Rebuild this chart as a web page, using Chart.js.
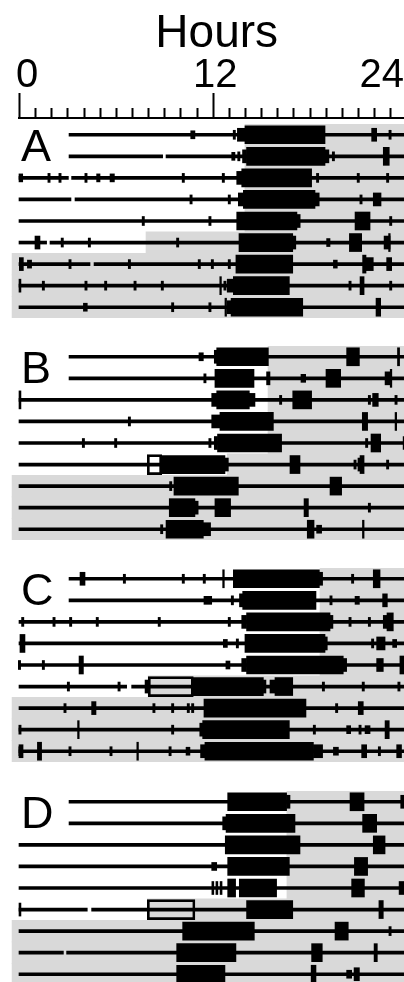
<!DOCTYPE html>
<html lang="en">
<head>
  <meta charset="UTF-8">
  <title>Actogram A-D</title>
  <script src="https://cdn.jsdelivr.net/npm/chart.js"></script>
  <style>
    html, body { margin: 0; padding: 0; background: #fff; overflow: hidden; }
    body { width: 404px; height: 982px; position: relative; }
    canvas { position: absolute; left: 0; }
  </style>
</head>
<body>
  <canvas id="panelA" width="404" height="318" style="top:0px"></canvas>
  <canvas id="panelB" width="404" height="194" style="top:346px"></canvas>
  <canvas id="panelC" width="404" height="194" style="top:568px"></canvas>
  <canvas id="panelD" width="404" height="194" style="top:791px"></canvas>
  <script>
    // rows (days) and hour axis
    const rowLabels = ['1', '2', '3', '4', '5', '6', '7', '8', '9'];
    const hourLabels = ['0', '12', '24'];
    const hourLabelValues = [0, 12, 24];

    // --- panel A --- [row, start h, end h]; gray = lights-off start per row
    const grayA = [14.0, 14.0, 14.0, 14.0, 14.0, 7.87, -0.43, -0.43, -0.43];
    const linesA = [[1,3.1,24],[2,3.1,8.9],[2,9.11,24],[3,0,3.06],[3,3.26,24],[4,0,3.22],[4,3.47,24],[5,0,24],[6,0,1.71],[6,1.92,24],[7,0,4.4],[7,4.65,24],[8,0,24],[9,0,24]];
    const ticksA = [[1,13.34],[1,22.99],[2,13.62],[2,19.48],[3,1.86],[3,2.54],[3,4.15],[3,10.18],[3,12.66],[3,18.5],[3,21.02],[3,22.84],[4,10.66],[4,13.03],[4,21.19],[5,7.7],[5,11.83],[5,23.03],[6,2.68],[6,4.36],[6,9.83],[7,3.16],[7,6.84],[7,11.17],[7,11.98],[7,13.03],[8,1.51],[8,4.15],[8,5.37],[8,7.19],[8,8.88],[8,12.76],[8,20.51],[8,23.03],[9,9.52],[9,11.83]];
    const smallA = [[1,10.64,10.9],[2,13.18,13.38],[3,0,0.23],[3,4.81,5.02],[3,5.64,5.91],[6,19.06,19.27],[7,0.52,0.78],[7,19.48,19.72],[9,3.99,4.23]];
    const midA = [[1,13.53,14.0],[1,21.85,22.16],[2,13.85,14.1],[2,18.96,19.2],[3,13.49,13.8],[4,13.59,13.9],[4,18.34,18.6],[4,21.95,22.43],[5,17.22,17.42],[6,0.99,1.3],[6,16.96,17.15],[6,22.62,22.99],[7,0.02,0.27],[7,21.5,21.95],[7,22.78,23.09],[8,0.0,0.12],[8,12.9,13.28],[9,12.9,13.14]];
    const largeA = [[1,14.0,18.96],[2,14.1,18.96],[2,22.57,22.94],[3,13.8,18.13],[4,13.9,18.34],[5,13.49,17.22],[5,20.82,21.75],[6,13.63,16.96],[6,20.47,21.23],[6,22.9,23.0],[7,13.44,16.96],[7,21.29,21.5],[8,12.44,12.54],[8,13.28,16.75],[8,21.13,21.38],[9,12.76,12.86],[9,13.14,17.58],[9,22.12,22.41]];
    const rectsA = [];

    // --- panel B ---
    const grayB = [15.43, 15.43, 15.43, 15.43, 15.43, 12.9, -0.43, -0.43, -0.43];
    const linesB = [[1,3.1,24],[2,3.1,24],[3,0,24],[4,0,24],[5,0,24],[6,0,24],[7,0,24],[8,0,24],[9,0,24]];
    const ticksB = [[2,11.52],[3,16.21],[3,21.71],[3,23.36],[4,6.84],[5,3.99],[5,5.99],[5,11.83],[5,21.54],[6,20.82],[6,22.84],[7,9.4],[8,21.71],[9,8.84]];
    const smallB = [[1,11.15,11.42],[2,17.47,17.76],[9,18.44,18.75]];
    const midB = [[1,12.1,12.25],[2,15.34,15.55],[2,22.68,22.99],[3,11.94,12.25],[3,14.27,14.62],[3,21.91,22.26],[4,11.94,12.45],[5,12.1,12.3],[5,23.8,24],[6,12.76,12.97],[6,21.0,21.13],[8,10.9,11.1],[9,11.42,11.87]];
    const largeB = [[1,12.25,15.45],[1,20.3,21.09],[1,23.45,23.58],[2,12.14,14.56],[2,19.02,19.93],[2,23.0,23.1],[3,0,0.12],[3,12.25,14.27],[3,16.96,18.13],[4,12.45,15.76],[4,21.27,21.6],[4,23.3,23.4],[5,12.3,16.27],[5,21.81,22.41],[6,8.84,12.76],[6,16.79,17.41],[6,21.13,21.38],[7,9.6,13.59],[7,19.27,19.99],[8,9.31,10.9],[8,12.14,13.11],[8,17.66,17.93],[9,9.11,11.42],[9,17.86,18.28],[9,21.28,21.38]];
    const rectsB = [[6,7.95,8.84]];

    // --- panel C ---
    const grayC = [18.65, 18.65, 18.65, 18.65, 18.65, 8.0, -0.43, -0.43, -0.43];
    const linesC = [[1,3.1,24],[2,3.1,24],[3,0,24],[4,0,24],[5,0,24],[6,0,6.67],[6,6.98,24],[7,0,24],[8,0,24],[9,0,24]];
    const ticksC = [[1,6.53],[1,10.18],[1,11.48],[1,20.67],[2,13.22],[2,19.33],[3,0.23],[3,2.17],[3,3.2],[3,4.85],[3,8.69],[3,13.03],[3,20.51],[3,21.71],[4,13.53],[4,21.91],[5,0.03],[5,1.51],[6,3.06],[6,6.2],[6,18.86],[6,21.33],[6,23.54],[7,2.85],[7,8.36],[7,9.52],[7,10.49],[7,10.76],[7,19.68],[8,0.06],[8,9.52],[8,18.3],[8,21.13],[9,0.06],[9,3.16],[9,5.7],[9,9.36],[9,22.33]];
    const smallC = [[2,11.46,11.94],[2,20.82,21.09],[4,12.66,12.91],[4,23.15,23.4],[5,12.82,13.07],[8,20.3,20.55],[8,21.44,21.75],[9,10.35,10.59],[9,19.48,19.79]];
    const midC = [[1,3.78,4.09],[1,18.61,18.81],[2,13.66,13.86],[2,22.53,22.82],[3,13.8,14.1],[3,19.27,19.45],[3,22.57,22.8],[4,18.96,19.1],[4,22.16,22.68],[5,13.8,14.1],[5,20.09,20.3],[5,22.16,22.57],[6,7.81,8.01],[6,15.14,15.3],[6,15.55,15.86],[7,4.5,4.77],[7,21.02,21.33],[8,11.2,11.38],[9,0.0,0.25],[9,11.25,11.52],[9,18.24,18.81],[9,21.23,21.54],[9,23.4,23.7]];
    const largeC = [[1,12.62,12.72],[1,13.28,18.61],[1,21.95,22.37],[2,13.86,18.4],[3,14.1,19.27],[3,22.8,23.19],[4,0.06,0.37],[4,14.0,18.96],[5,3.72,3.99],[5,14.1,20.09],[5,23.6,24],[6,10.8,15.14],[6,15.86,16.96],[7,11.46,17.78],[8,3.63,3.73],[8,11.38,16.75],[8,22.68,22.94],[9,1.14,1.4],[9,7.3,7.4],[9,11.52,18.24]];
    const rectsC = [[6,8.01,10.8]];

    // --- panel D ---
    const grayD = [16.6, 16.6, 16.6, 16.6, 16.6, 7.95, -0.43, -0.43, -0.43];
    const linesD = [[1,3.1,24],[2,3.1,24],[3,0,24],[4,0,24],[5,0,24],[6,0,4.23],[6,4.5,24],[7,0,24],[8,0,2.75],[8,2.95,24],[9,0,24]];
    const ticksD = [[7,22.99]];
    const smallD = [[4,11.94,12.25],[9,20.3,20.61]];
    const midD = [[1,16.58,16.79],[1,23.65,24],[2,12.62,12.83],[5,11.95,12.07],[5,12.2,12.32],[5,12.46,12.58],[5,23.55,24],[6,0,0.12],[9,20.76,21.09]];
    const largeD = [[1,12.93,16.58],[1,20.51,21.38],[2,12.83,17.1],[2,21.29,22.16],[3,12.78,17.41],[3,21.95,22.68],[4,12.93,16.75],[4,20.78,21.6],[5,12.93,13.42],[5,13.65,15.96],[5,20.61,21.4],[6,14.1,16.96],[6,22.3,22.57],[7,10.14,14.58],[7,19.58,20.4],[8,9.77,13.44],[8,18.13,18.79],[8,22.0,22.2],[9,9.77,12.76],[9,18.1,18.4]];
    const rectsD = [[6,7.95,10.9]];

    const TICK_W = 0.14; // hours
    const FONT = '"Liberation Sans", Arial, sans-serif';

    // top hour axis, drawn only on panel A
    const hourAxis = {
      id: 'hourAxis',
      afterDraw(chart) {
        const ctx = chart.ctx;
        const xs = chart.scales.x;
        const yBase = 118;
        ctx.save();
        ctx.strokeStyle = '#000';
        ctx.lineWidth = 2;
        ctx.beginPath();
        ctx.moveTo(xs.getPixelForValue(0) - 1, yBase);
        ctx.lineTo(chart.width, yBase);
        for (let h = 0; h <= 24; h++) {
          const px = Math.round(xs.getPixelForValue(h)) + 0.5;
          ctx.moveTo(px, yBase);
          ctx.lineTo(px, hourLabelValues.includes(h) ? 93 : 108);
        }
        ctx.stroke();

        ctx.fillStyle = '#000';
        ctx.textBaseline = 'alphabetic';
        ctx.font = '40px ' + FONT;
        ctx.textAlign = 'left';
        ctx.fillText(hourLabels[0], xs.getPixelForValue(hourLabelValues[0]) - 3, 87);
        ctx.textAlign = 'center';
        ctx.fillText(hourLabels[1], xs.getPixelForValue(hourLabelValues[1]) + 2.5, 87);
        ctx.textAlign = 'right';
        ctx.fillText(hourLabels[2], chart.width, 87);

        ctx.font = '46px ' + FONT;
        ctx.textAlign = 'center';
        ctx.fillText('Hours', xs.getPixelForValue(12) + 4, 47);
        ctx.restore();
      }
    };

    const panelLetter = {
      id: 'panelLetter',
      afterDraw(chart, args, opts) {
        const ctx = chart.ctx;
        const y = chart.scales.y.getPixelForValue(0) + 26;
        ctx.save();
        ctx.fillStyle = '#000';
        ctx.font = '45px ' + FONT;
        ctx.textAlign = 'left';
        ctx.textBaseline = 'alphabetic';
        ctx.fillText(opts.text, 21, y);
        ctx.restore();
      }
    };

    Chart.register(hourAxis, panelLetter);

    function toBars(list) {
      return list.map(d => ({ x: [d[1], d[2]], y: rowLabels[d[0] - 1] }));
    }

    function blackSet(data, thick, order) {
      return {
        data: data,
        backgroundColor: '#000',
        borderWidth: 0,
        barThickness: thick,
        grouped: false,
        order: order
      };
    }

    function makePanel(id, letter, gray, lines, ticks, small, mid, large, rects, padTop) {
      const tickBars = ticks.map(d => ({ x: [d[1] - TICK_W / 2, d[1] + TICK_W / 2], y: rowLabels[d[0] - 1] }));
      const datasets = [
        blackSet(toBars(large), 18, 1),
        blackSet(toBars(mid), 13, 2),
        blackSet(toBars(small), 8, 3),
        blackSet(tickBars, 9, 3),
        {
          data: toBars(rects),
          backgroundColor: 'rgba(0,0,0,0)',
          borderColor: '#000',
          borderWidth: 2,
          borderSkipped: false,
          barThickness: 20,
          grouped: false,
          order: 4
        },
        blackSet(toBars(lines), 3, 5),
        {
          data: gray.map((g, i) => ({ x: [g, 24], y: rowLabels[i] })),
          backgroundColor: '#d9d9d9',
          borderWidth: 0,
          barPercentage: 1,
          categoryPercentage: 1,
          grouped: false,
          order: 6
        }
      ];

      return new Chart(document.getElementById(id), {
        type: 'bar',
        data: { labels: rowLabels, datasets: datasets },
        options: {
          indexAxis: 'y',
          responsive: false,
          animation: false,
          devicePixelRatio: 1,
          layout: { padding: { top: padTop, left: 0, right: 0, bottom: 0 } },
          scales: {
            x: { type: 'linear', min: -19 / 16.14, max: 385 / 16.14, display: false },
            y: { type: 'category', display: false, offset: true }
          },
          plugins: {
            legend: { display: false },
            tooltip: { enabled: false },
            hourAxis: padTop > 0 ? {} : false,
            panelLetter: { text: letter }
          }
        }
      });
    }

    makePanel('panelA', 'A', grayA, linesA, ticksA, smallA, midA, largeA, rectsA, 124);
    makePanel('panelB', 'B', grayB, linesB, ticksB, smallB, midB, largeB, rectsB, 0);
    makePanel('panelC', 'C', grayC, linesC, ticksC, smallC, midC, largeC, rectsC, 0);
    makePanel('panelD', 'D', grayD, linesD, ticksD, smallD, midD, largeD, rectsD, 0);
  </script>
</body>
</html>
